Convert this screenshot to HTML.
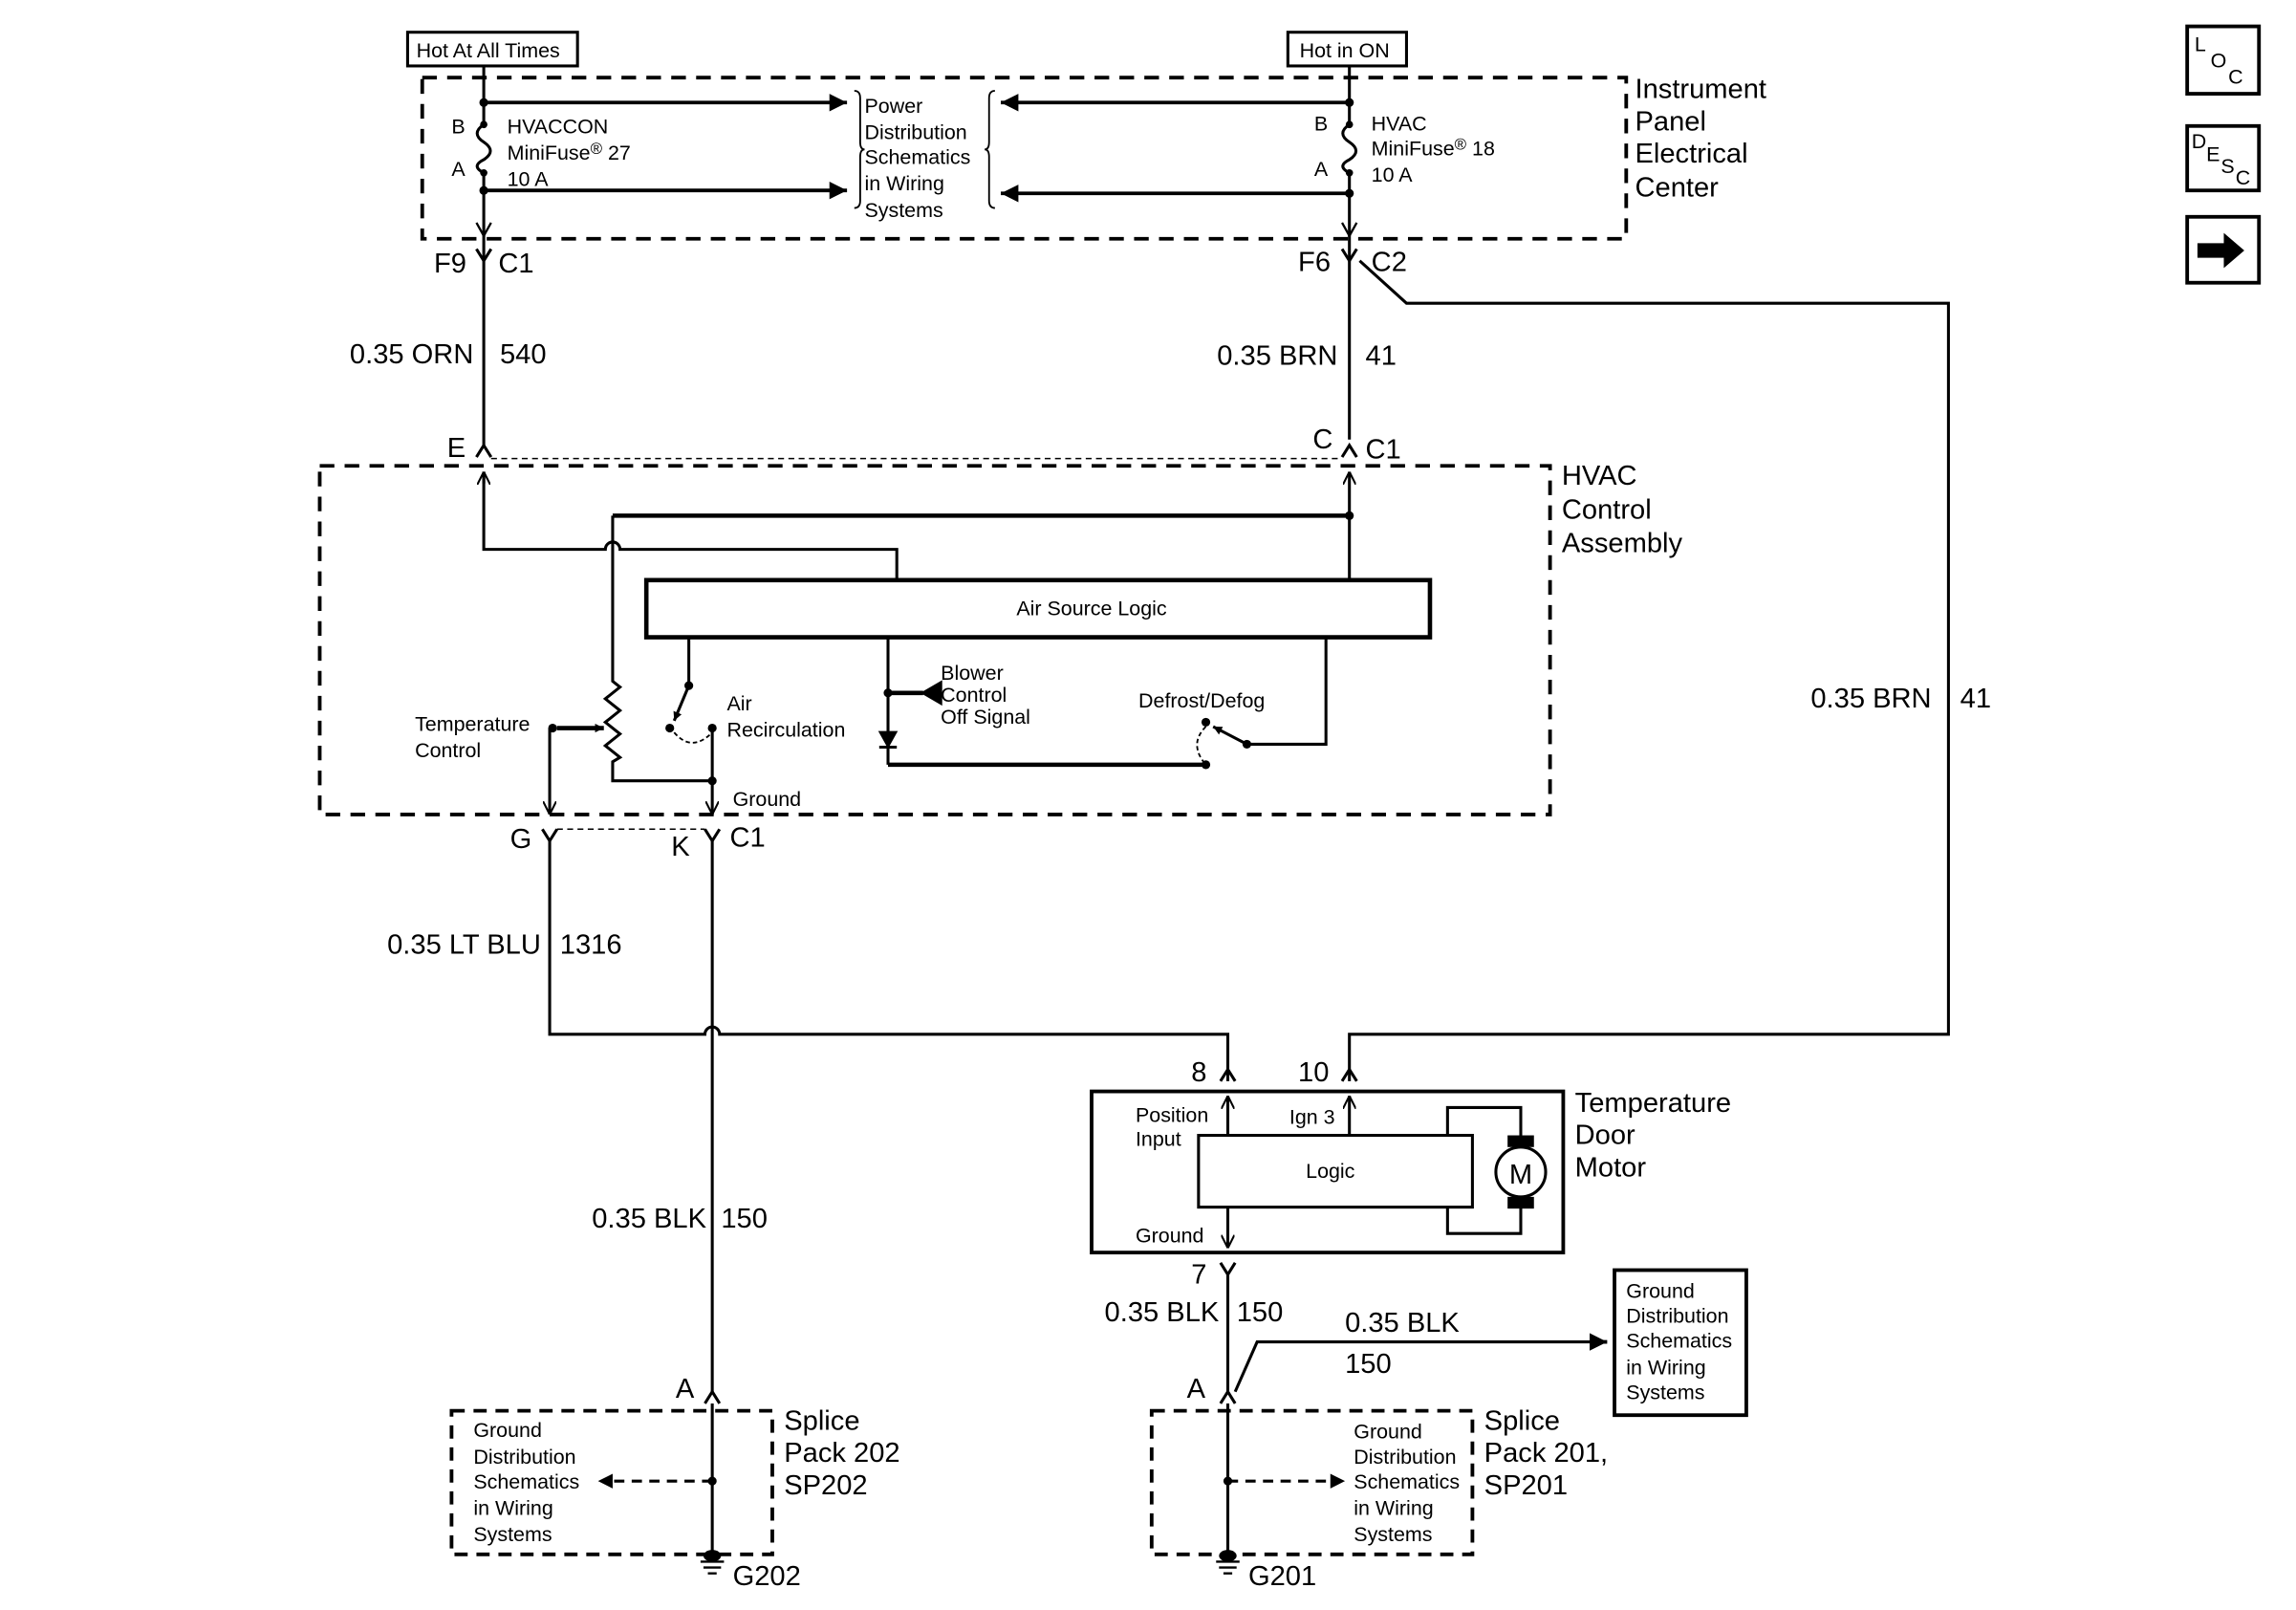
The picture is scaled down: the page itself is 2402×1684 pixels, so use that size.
<!DOCTYPE html>
<html><head><meta charset="utf-8"><style>
html,body{margin:0;padding:0;background:#fff}
svg{display:block}
text{font-family:"Liberation Sans",Arial,sans-serif;fill:#000}
.s{font-size:14px}.m{font-size:19px}.l{font-size:20px}
</style></head><body>
<svg width="2402" height="1684" viewBox="0 0 1567 1099" xmlns="http://www.w3.org/2000/svg">
<defs>
<marker id="ar" viewBox="0 0 10 10" refX="10" refY="5" markerWidth="6" markerHeight="6" orient="auto" markerUnits="userSpaceOnUse"><path d="M0,0L10,5L0,10z"/></marker>
<marker id="ao" viewBox="0 0 10 10" refX="10" refY="5" markerWidth="9" markerHeight="9" orient="auto" markerUnits="userSpaceOnUse"><path d="M0,0L10,5L0,10" fill="none" stroke="#000" stroke-width="1.5"/></marker>
<marker id="ab" viewBox="0 0 10 10" refX="10" refY="5" markerWidth="12" markerHeight="12" orient="auto" markerUnits="userSpaceOnUse"><path d="M0,0L10,5L0,10z"/></marker>
</defs>
<g fill="none" stroke="#000" stroke-width="2">
<rect x="278" y="22" width="116" height="23"/>
<rect x="879" y="22" width="81" height="23"/>
<rect x="288" y="53" width="822" height="110" stroke-dasharray="10,7" stroke-width="2.5"/>
<path d="M330,45V85M330,118V305" />
<path d="M330,85c-6,4 -6,8 0,12c6,4 6,8 0,12c-6,3 -6,6 0,9"/>
<path d="M330,70H578" stroke-width="2.5" marker-end="url(#ab)"/>
<path d="M330,130H578" stroke-width="2.5" marker-end="url(#ab)"/>
<path d="M921,45V85M921,118V300"/>
<path d="M921,85c-6,4 -6,8 0,12c6,4 6,8 0,12c-6,3 -6,6 0,9"/>
<path d="M921,70H683" stroke-width="2.5" marker-end="url(#ab)"/>
<path d="M921,132H683" stroke-width="2.5" marker-end="url(#ab)"/>
<path d="M583,62q4,0 4,5v30q0,5 3,5q-3,0 -3,5v30q0,5 -4,5" stroke-width="1.2"/>
<path d="M679,62q-4,0 -4,5v30q0,5 -3,5q3,0 3,5v30q0,5 4,5" stroke-width="1.2"/>
<path d="M325,152l5,9l5,-9M916,152l5,9l5,-9" stroke-width="1.5"/>
<path d="M325,170l5,8l5,-8M916,170l5,8l5,-8"/>
<path d="M928,178L960,207H1330V706H921V738"/>
<path d="M325,312l5,-8l5,8M916,312l5,-8l5,8"/>
<path d="M335,313H916" stroke-width="1" stroke-dasharray="4,3"/>
<rect x="218" y="318" width="840" height="238" stroke-dasharray="10,7" stroke-width="2.5"/>
<path d="M330,322V375H413a5,5 0 0 1 10,0H612V396"/>
<path d="M330,330V322" marker-end="url(#ao)"/>
<path d="M418,352H921" stroke-width="3"/>
<path d="M921,396V322" marker-end="url(#ao)"/>
<path d="M418,352V465l5,4l-10,8l10,8l-10,8l10,8l-10,8l10,8l-5,3V533H486"/>
<rect x="441" y="396" width="535" height="39" stroke-width="3"/>
<path d="M470,435V468"/>
<path d="M470,468L460,492" marker-end="url(#ar)"/>
<path d="M460,500q12,14 26,0" stroke-dasharray="3,2" stroke-width="1.2"/>
<path d="M486,497V556" marker-end="url(#ao)"/>
<path d="M380,497H412" stroke-width="3" marker-end="url(#ar)"/>
<path d="M375,497V556" marker-end="url(#ao)"/>
<path d="M606,435V522"/>
<path d="M606,522H823" stroke-width="3"/>
<path d="M606,473H630" stroke-width="3"/>
<path d="M642,466L630,473L642,480z" fill="#000"/>
<path d="M601,500h10l-5,9z" fill="#000"/>
<path d="M600,510h12"/>
<path d="M905,435V508H851"/>
<path d="M851,508L828,496" marker-end="url(#ar)"/>
<path d="M823,496q-12,12 0,26" stroke-dasharray="3,2" stroke-width="1.2"/>
<path d="M370,566l5,8l5,-8M481,566l5,8l5,-8"/>
<path d="M380,566H481" stroke-width="1" stroke-dasharray="4,3"/>
<path d="M375,574V706H481a5,5 0 0 1 10,0H838V738"/>
<path d="M486,574V950"/>
<path d="M833,738l5,-8l5,8M916,738l5,-8l5,8"/>
<rect x="745" y="745" width="322" height="110" stroke-width="2.5"/>
<path d="M838,775V748" marker-end="url(#ao)"/>
<path d="M921,775V748" marker-end="url(#ao)"/>
<rect x="818" y="775" width="187" height="49"/>
<path d="M988,775V756H1038V820M988,824V842H1038V780"/>
<path d="M838,824V852" marker-end="url(#ao)"/>
<path d="M833,862l5,8l5,-8"/>
<path d="M838,870V950"/>
<path d="M843,950L858,916H1085"/>
<path d="M1085,916H1097" stroke-width="2.5" marker-end="url(#ab)"/>
<rect x="1102" y="867" width="90" height="99" stroke-width="2.5"/>
<path d="M481,958l5,-8l5,8M833,958l5,-8l5,8"/>
<rect x="308" y="963" width="219" height="98" stroke-dasharray="9,6" stroke-width="2.5"/>
<rect x="786" y="963" width="219" height="98" stroke-dasharray="9,6" stroke-width="2.5"/>
<path d="M486,958V1062M838,958V1062"/>
<path d="M486,1011H413M838,1011H913" stroke-dasharray="7,5"/>
<path d="M478,1066h16M480,1070h12M483,1074h6M830,1066h16M832,1070h12M835,1074h6" stroke-width="1.5"/>
<rect x="1493" y="18" width="49" height="46" stroke-width="2.5"/>
<rect x="1493" y="86" width="49" height="44" stroke-width="2.5"/>
<rect x="1493" y="148" width="49" height="45" stroke-width="2.5"/>
</g>
<g fill="#000">
<circle cx="330" cy="70" r="3"/><circle cx="330" cy="130" r="3"/><circle cx="330" cy="85" r="2.5"/><circle cx="330" cy="118" r="2.5"/>
<circle cx="921" cy="70" r="3"/><circle cx="921" cy="132" r="3"/><circle cx="921" cy="85" r="2.5"/><circle cx="921" cy="118" r="2.5"/>
<circle cx="921" cy="352" r="3"/><circle cx="470" cy="468" r="3"/><circle cx="457" cy="497" r="3"/><circle cx="486" cy="497" r="3"/><circle cx="486" cy="533" r="3"/>
<circle cx="377" cy="497" r="3"/><circle cx="606" cy="473" r="3"/><circle cx="823" cy="493" r="3"/><circle cx="823" cy="522" r="3"/><circle cx="851" cy="508" r="3"/>
<circle cx="486" cy="1011" r="3"/><circle cx="838" cy="1011" r="3"/>
<path d="M418,1006L408,1011L418,1016z M908,1006L918,1011L908,1016z"/>
<ellipse cx="486" cy="1062" rx="6" ry="4"/><ellipse cx="838" cy="1062" rx="6" ry="4"/>
<rect x="1029" y="775" width="18" height="8"/><rect x="1029" y="817" width="18" height="8"/>
<path d="M1500,166h18v-7l14,12l-14,12v-7h-18z"/>
</g>
<circle cx="1038" cy="800" r="17" fill="#fff" stroke="#000" stroke-width="2"/>
<text x="1038" y="808" class="m" text-anchor="middle">M</text>
<text x="284" y="39" class="s">Hot At All Times</text>
<text x="887" y="39" class="s">Hot in ON</text>
<text class="m"><tspan x="1116" y="67">Instrument</tspan><tspan x="1116" y="89">Panel</tspan><tspan x="1116" y="111">Electrical</tspan><tspan x="1116" y="134">Center</tspan></text>
<text x="308" y="91" class="s">B</text><text x="308" y="120" class="s">A</text>
<text class="s"><tspan x="346" y="91">HVACCON</tspan><tspan x="346" y="109">MiniFuse<tspan font-size="11" dy="-4">®</tspan><tspan dy="4"> 27</tspan></tspan><tspan x="346" y="127">10 A</tspan></text>
<text x="897" y="89" class="s">B</text><text x="897" y="120" class="s">A</text>
<text class="s"><tspan x="936" y="89">HVAC</tspan><tspan x="936" y="106">MiniFuse<tspan font-size="11" dy="-4">®</tspan><tspan dy="4"> 18</tspan></tspan><tspan x="936" y="124">10 A</tspan></text>
<text class="s"><tspan x="590" y="77">Power</tspan><tspan x="590" y="95">Distribution</tspan><tspan x="590" y="112">Schematics</tspan><tspan x="590" y="130">in Wiring</tspan><tspan x="590" y="148">Systems</tspan></text>
<text class="m"><tspan x="296" y="186">F9</tspan><tspan x="340" y="186">C1</tspan><tspan x="886" y="185">F6</tspan><tspan x="936" y="185">C2</tspan></text>
<text class="m" x="323" y="248" text-anchor="end">0.35 ORN</text><text class="m" x="341" y="248">540</text>
<text class="m" x="913" y="249" text-anchor="end">0.35 BRN</text><text class="m" x="932" y="249">41</text>
<text class="m" x="305" y="312">E</text><text class="m" x="896" y="306">C</text><text class="m" x="932" y="313">C1</text>
<text class="m"><tspan x="1066" y="331">HVAC</tspan><tspan x="1066" y="354">Control</tspan><tspan x="1066" y="377">Assembly</tspan></text>
<text x="745" y="420" class="s" text-anchor="middle">Air Source Logic</text>
<text class="s"><tspan x="496" y="485">Air</tspan><tspan x="496" y="503">Recirculation</tspan></text>
<text class="s"><tspan x="283" y="499">Temperature</tspan><tspan x="283" y="517">Control</tspan></text>
<text class="s"><tspan x="642" y="464">Blower</tspan><tspan x="642" y="479">Control</tspan><tspan x="642" y="494">Off Signal</tspan></text>
<text class="s" x="777" y="483">Defrost/Defog</text>
<text class="s" x="500" y="550">Ground</text>
<text class="m" x="1236" y="483">0.35 BRN</text><text class="m" x="1338" y="483">41</text>
<text class="m"><tspan x="348" y="579">G</tspan><tspan x="458" y="584">K</tspan><tspan x="498" y="578">C1</tspan></text>
<text class="m" x="369" y="651" text-anchor="end">0.35 LT BLU</text><text class="m" x="382" y="651">1316</text>
<text class="m"><tspan x="813" y="738">8</tspan><tspan x="886" y="738">10</tspan></text>
<text class="m"><tspan x="1075" y="759">Temperature</tspan><tspan x="1075" y="781">Door</tspan><tspan x="1075" y="803">Motor</tspan></text>
<text class="s"><tspan x="775" y="766">Position</tspan><tspan x="775" y="782">Input</tspan><tspan x="880" y="767">Ign 3</tspan><tspan x="775" y="848">Ground</tspan></text>
<text class="s" x="908" y="804" text-anchor="middle">Logic</text>
<text class="m" x="813" y="876">7</text>
<text class="m" x="482" y="838" text-anchor="end">0.35 BLK</text><text class="m" x="492" y="838">150</text>
<text class="m" x="832" y="902" text-anchor="end">0.35 BLK</text><text class="m" x="844" y="902">150</text>
<text class="m" x="918" y="909">0.35 BLK</text><text class="m" x="918" y="937">150</text>
<text class="s"><tspan x="1110" y="886">Ground</tspan><tspan x="1110" y="903">Distribution</tspan><tspan x="1110" y="920">Schematics</tspan><tspan x="1110" y="938">in Wiring</tspan><tspan x="1110" y="955">Systems</tspan></text>
<text class="m" x="461" y="954">A</text><text class="m" x="810" y="954">A</text>
<text class="s"><tspan x="323" y="981">Ground</tspan><tspan x="323" y="999">Distribution</tspan><tspan x="323" y="1016">Schematics</tspan><tspan x="323" y="1034">in Wiring</tspan><tspan x="323" y="1052">Systems</tspan></text>
<text class="s"><tspan x="924" y="982">Ground</tspan><tspan x="924" y="999">Distribution</tspan><tspan x="924" y="1016">Schematics</tspan><tspan x="924" y="1034">in Wiring</tspan><tspan x="924" y="1052">Systems</tspan></text>
<text class="m"><tspan x="535" y="976">Splice</tspan><tspan x="535" y="998">Pack 202</tspan><tspan x="535" y="1020">SP202</tspan></text>
<text class="m"><tspan x="1013" y="976">Splice</tspan><tspan x="1013" y="998">Pack 201,</tspan><tspan x="1013" y="1020">SP201</tspan></text>
<text class="m" x="500" y="1082">G202</text><text class="m" x="852" y="1082">G201</text>
<text class="s"><tspan x="1498" y="35">L</tspan><tspan x="1509" y="46">O</tspan><tspan x="1521" y="57">C</tspan></text>
<text class="s"><tspan x="1496" y="101">D</tspan><tspan x="1506" y="110">E</tspan><tspan x="1516" y="118">S</tspan><tspan x="1526" y="126">C</tspan></text>
</svg>
</body></html>
